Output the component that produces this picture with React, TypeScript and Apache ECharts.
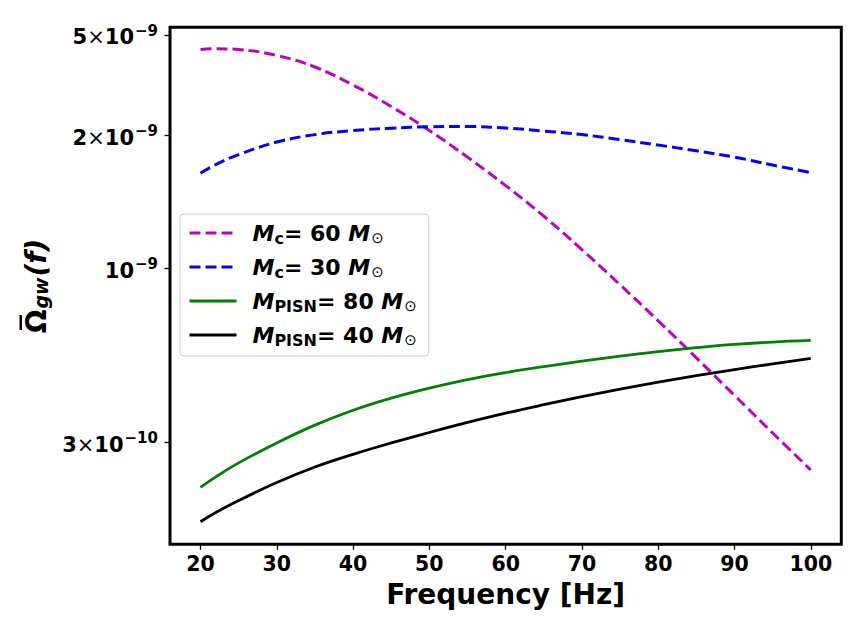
import React, { useEffect, useRef } from "react";
import * as echarts from "echarts";

const FREQ = [20, 22, 25, 30, 35, 40, 45, 50, 55, 60, 65, 70, 75, 80, 85, 90, 95, 100];
const MC60 = [4.524e-9, 4.546e-9, 4.524e-9, 4.341e-9, 4.009e-9, 3.539e-9, 3.051e-9, 2.585e-9, 2.151e-9, 1.767e-9, 1.431e-9, 1.135e-9, 0.891e-9, 0.6946e-9, 0.5378e-9, 0.415e-9, 0.3201e-9, 0.2479e-9];
const MC30 = [1.926e-9, 2.043e-9, 2.189e-9, 2.387e-9, 2.513e-9, 2.585e-9, 2.628e-9, 2.652e-9, 2.657e-9, 2.63e-9, 2.576e-9, 2.513e-9, 2.429e-9, 2.338e-9, 2.247e-9, 2.151e-9, 2.036e-9, 1.933e-9];
const PISN80 = [0.2197e-9, 0.2363e-9, 0.2604e-9, 0.2989e-9, 0.3379e-9, 0.3744e-9, 0.4071e-9, 0.4362e-9, 0.4626e-9, 0.4855e-9, 0.5062e-9, 0.5257e-9, 0.5442e-9, 0.5615e-9, 0.5768e-9, 0.5901e-9, 0.5999e-9, 0.6069e-9];
const PISN40 = [0.1734e-9, 0.1848e-9, 0.2008e-9, 0.2274e-9, 0.2531e-9, 0.2763e-9, 0.2988e-9, 0.3212e-9, 0.3442e-9, 0.367e-9, 0.3891e-9, 0.4114e-9, 0.4332e-9, 0.4546e-9, 0.4755e-9, 0.4956e-9, 0.516e-9, 0.5359e-9];

const SERIES_NAMES = ["Mc= 60 M⊙", "Mc= 30 M⊙", "MPISN= 80 M⊙", "MPISN= 40 M⊙"];
const SERIES_SUB = ["c", "c", "PISN", "PISN"];
const SERIES_MASS = ["60", "30", "80", "40"];
const SERIES_COLORS = ["#bf00bf", "#0000ff", "#008000", "#000000"];
const SERIES_DASHED = [true, true, false, false];

const X_TICKS = [20, 30, 40, 50, 60, 70, 80, 90, 100];
const Y_TICK_VALUES = [5e-9, 2.5e-9, 1e-9, 3e-10];
const Y_TICK_MANTISSA = ["5", "2", "", "3"];
const Y_TICK_EXPONENT = ["−9", "−9", "−9", "−10"];

const X_TITLE = "Frequency [Hz]";
const FONT = "DejaVu Sans";

function yLabel(v: number): string {
  for (let i = 0; i < Y_TICK_VALUES.length; i++) {
    if (Math.abs(Math.log10(v) - Math.log10(Y_TICK_VALUES[i])) < 1e-6) {
      const m = Y_TICK_MANTISSA[i];
      return (m ? `{n|${m}}{x|×}` : "") + `{n|10}{s|${Y_TICK_EXPONENT[i]}}`;
    }
  }
  return "";
}

function legendLabel(name: string): string {
  const i = SERIES_NAMES.indexOf(name);
  return `{m0|M}{sub|${SERIES_SUB[i]}}{t|= ${SERIES_MASS[i]} }{m|M}{sun|⊙}`;
}

export default function App() {
  const ref = useRef<HTMLDivElement>(null);
  useEffect(() => {
    const chart = echarts.init(ref.current!, undefined, { renderer: "svg" });
    const data = [MC60, MC30, PISN80, PISN40];
    const mStyle = { fontFamily: FONT, fontWeight: "bold", fontStyle: "italic", fontSize: 22, lineHeight: 26, color: "#000", verticalAlign: "middle" };
    const option: any = {
      animation: false,
      backgroundColor: "#ffffff",
      grid: {
        left: 170,
        right: 13.7,
        top: 27.3,
        bottom: 77.7,
        show: true,
        borderColor: "#000",
        borderWidth: 3,
        backgroundColor: "transparent",
      },
      xAxis: {
        type: "value",
        min: 16,
        max: 104,
        axisLine: { show: false },
        splitLine: { show: false },
        axisTick: {
          show: true,
          length: 5.5,
          customValues: X_TICKS,
          lineStyle: { color: "#000", width: 1.3 },
        },
        axisLabel: {
          customValues: X_TICKS,
          margin: 9,
          color: "#000",
          fontFamily: FONT,
          fontWeight: "bold",
          fontSize: 20.5,
          lineHeight: 21,
        },
        name: X_TITLE,
        nameLocation: "middle",
        nameGap: 33.7,
        nameTextStyle: {
          color: "#000",
          fontFamily: FONT,
          fontWeight: "bold",
          fontSize: 28,
          lineHeight: 30,
        },
      },
      yAxis: {
        type: "log",
        logBase: 10,
        min: 1.484e-10,
        max: 5.273e-9,
        axisLine: { show: false },
        splitLine: { show: false },
        minorTick: { show: false },
        axisTick: {
          show: true,
          length: 5.5,
          customValues: Y_TICK_VALUES,
          lineStyle: { color: "#000", width: 1.3 },
        },
        axisLabel: {
          customValues: Y_TICK_VALUES,
          margin: 12,
          align: "right",
          formatter: (v: number) => yLabel(v),
          rich: {
            n: { fontFamily: FONT, fontWeight: "bold", fontSize: 21, lineHeight: 21, color: "#000", padding: [5, 0, 0, 0], verticalAlign: "middle" },
            x: { fontFamily: FONT, fontWeight: "normal", fontSize: 21, lineHeight: 21, color: "#000", padding: [5, 0, 0, 0], verticalAlign: "middle" },
            s: { fontFamily: FONT, fontWeight: "bold", fontSize: 15, lineHeight: 15, color: "#000", padding: [0, 0, 8, 1], verticalAlign: "middle" },
          },
        },
      },
      legend: {
        orient: "vertical",
        left: 180,
        top: 214,
        padding: [6, 12, 8, 8],
        itemWidth: 47,
        itemHeight: 14,
        itemGap: 8,
        backgroundColor: "rgba(255,255,255,0.8)",
        borderColor: "#cccccc",
        borderWidth: 1,
        borderRadius: 4,
        itemStyle: { opacity: 0 },
        lineStyle: { width: 3 },
        data: SERIES_NAMES,
        formatter: (name: string) => legendLabel(name),
        textStyle: {
          color: "#000",
          rich: {
            m0: { ...mStyle, padding: [0, 0, 0, 11] },
            m: mStyle,
            sub: { fontFamily: FONT, fontWeight: "bold", fontSize: 16, lineHeight: 16, color: "#000", padding: [10, 0, 0, 0], verticalAlign: "middle" },
            t: { fontFamily: FONT, fontWeight: "bold", fontSize: 22, lineHeight: 26, color: "#000", verticalAlign: "middle" },
            sun: { fontFamily: FONT, fontWeight: "normal", fontSize: 15, lineHeight: 16, color: "#000", padding: [9, 0, 0, 1], verticalAlign: "middle" },
          },
        },
      },
      graphic: [
        {
          type: "group",
          x: 36,
          y: 286,
          rotation: Math.PI / 2,
          children: [
            {
              type: "text",
              x: 0,
              y: 0,
              style: {
                text: "{o|Ω}{g|gw}{p|(f)}",
                align: "center",
                verticalAlign: "middle",
                fill: "#000",
                rich: {
                  o: { fontFamily: FONT, fontWeight: "bold", fontSize: 28, lineHeight: 32, fill: "#000", verticalAlign: "middle" },
                  g: { fontFamily: FONT, fontWeight: "bold", fontStyle: "italic", fontSize: 19, lineHeight: 20, fill: "#000", padding: [10, 1, 0, 1], verticalAlign: "middle" },
                  p: { fontFamily: FONT, fontWeight: "bold", fontStyle: "italic", fontSize: 28, lineHeight: 32, fill: "#000", verticalAlign: "middle" },
                },
              },
            },
            {
              type: "rect",
              shape: { x: -44, y: -16.5, width: 15, height: 2.5 },
              style: { fill: "#000" },
            },
          ],
        },
      ],
      series: SERIES_NAMES.map((name, i) => ({
        name,
        type: "line",
        data: FREQ.map((f, j) => [f, data[i][j]]),
        symbol: "none",
        showSymbol: false,
        smooth: 0.4,
        clip: true,
        lineStyle: {
          color: SERIES_COLORS[i],
          width: SERIES_DASHED[i] ? 3 : 2.8,
          type: SERIES_DASHED[i] ? [11, 5] : "solid",
        },
        itemStyle: { color: SERIES_COLORS[i] },
      })),
    };
    chart.setOption(option);
    return () => chart.dispose();
  }, []);
  return <div ref={ref} style={{ position: "fixed", left: 0, top: 0, width: 855, height: 622 }} />;
}
